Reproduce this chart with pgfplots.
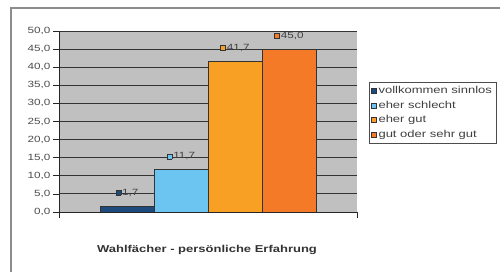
\documentclass[border=0pt]{standalone}
\usepackage{pgfplots}
\pgfplotsset{compat=1.18}
\usepackage{fontspec}
\setmainfont{Liberation Sans}[FakeStretch=1.3]
\definecolor{cA}{RGB}{30,75,125}
\definecolor{cB}{RGB}{108,197,240}
\definecolor{cC}{RGB}{248,160,35}
\definecolor{cD}{RGB}{244,122,40}
\definecolor{bgGray}{RGB}{192,192,192}
\newcommand{\labsq}[1]{{\setlength{\fboxsep}{0pt}\setlength{\fboxrule}{0.5pt}\fcolorbox{black!80}{#1}{\rule{0pt}{4.5pt}\rule{4.5pt}{0pt}}}\hspace{1pt}}
\begin{document}
\begin{tikzpicture}[x=1pt,y=1pt]
\useasboundingbox (0,0) rectangle (500,272);
\draw[black!45, line width=1.5pt] (11,-10) rectangle (520,264);
\node[font=\fontsize{10}{11}\selectfont\bfseries, text=black!80] at (207,22) {Wahlfächer - persönliche Erfahrung};
\begin{axis}[
  at={(59pt,60pt)}, anchor=south west,
  scale only axis, width=298pt, height=181pt,
  ybar=0pt, bar width=54pt,
  xmin=-1, xmax=1, ymin=0, ymax=50,
  xtick={-1,1}, xticklabels={,},
  ytick={0,5,...,50},
  ymajorgrids, grid style={black!80, line width=0.8pt},
  axis background/.style={fill=bgGray},
  axis x line*=bottom, axis y line*=left,
  axis line style={-, black!85, line width=0.7pt},
  tick align=outside, major tick length=6pt,
  tick style={black!85, line width=0.7pt},
  /pgf/number format/.cd, fixed, fixed zerofill, precision=1, use comma, assume math mode=true,
  /pgfplots/.cd,
  yticklabel style={font=\fontsize{9}{10}\selectfont, text=black!70, xshift=1pt},
  every node near coord/.append style={font=\fontsize{9}{10}\selectfont, text=black!75, yshift=6pt},
  legend style={at={(1.04,0.718)}, anchor=north west, draw=black!70, fill=white,
    font=\fontsize{10}{11}\selectfont, text=black!75, row sep=2pt, inner sep=2pt,
    cells={anchor=west}},
  legend image code/.code={\draw[#1, draw=black!80, line width=0.4pt] (0pt,-2.5pt) rectangle (5pt,2.5pt);},
]
\addplot[fill=cA, draw=black!80, nodes near coords={\labsq{cA}\pgfmathprintnumber{\pgfplotspointmeta}}] coordinates {(0,1.7)};
\addplot[fill=cB, draw=black!80, nodes near coords={\labsq{cB}\pgfmathprintnumber{\pgfplotspointmeta}}] coordinates {(0,11.7)};
\addplot[fill=cC, draw=black!80, nodes near coords={\labsq{cC}\pgfmathprintnumber{\pgfplotspointmeta}}] coordinates {(0,41.7)};
\addplot[fill=cD, draw=black!80, nodes near coords={\labsq{cD}\pgfmathprintnumber{\pgfplotspointmeta}}] coordinates {(0,45.0)};
\legend{vollkommen sinnlos, eher schlecht, eher gut, gut oder sehr gut}
\end{axis}
\end{tikzpicture}
\end{document}
